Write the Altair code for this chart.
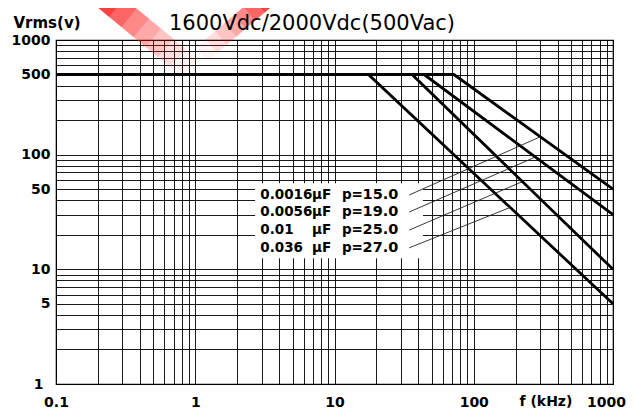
import altair as alt
import pandas as pd

# ---------------- data ----------------
caps = ["0.0016µF", "0.0056µF", "0.01µF", "0.036µF"]
cap_values = ["0.0016", "0.0056", "0.01", "0.036"]
p_names = ["p=", "p=", "p=", "p="]
p_values = ["15.0", "19.0", "25.0", "27.0"]
v_flat = [500, 500, 500, 500]          # Vrms on the flat part
break_khz = [72, 44, 36, 17.5]         # corner frequency (kHz)
v_at_1000 = [50, 30, 10, 5]            # Vrms at 1000 kHz
f_start = 0.1
f_end = 1000

x_tick_labels = ["0.1", "1", "10", "100", "1000"]
y_tick_labels = ["1", "5", "10", "50", "100", "500", "1000"]

title_text = "1600Vdc/2000Vdc(500Vac)"
y_title = "Vrms(v)"
x_title = "f (kHz)"

# leader end points on the curves
leader_end_f = [300, 275, 222, 182]
leader_end_v = [143, 95, 58, 34.6]

# ---------------- tables ----------------
rows = []
for c, vf, fb, ve in zip(caps, v_flat, break_khz, v_at_1000):
    rows += [{"cap": c, "f": f_start, "v": vf},
             {"cap": c, "f": fb, "v": vf},
             {"cap": c, "f": f_end, "v": ve}]
curves = pd.DataFrame(rows)

# annotation layout (data coordinates)
row_v = [44.5, 31.6, 22.0, 15.4]
COL_VAL, COL_UNIT, COL_P, COL_PV, LEAD_START = 2.93, 6.89, 11.3, 15.9, 34.4
legend = pd.DataFrame({
    "val": cap_values, "pn": p_names, "pv": p_values, "v": row_v,
    "ef": leader_end_f, "ev": leader_end_v,
})
legend["xa"] = COL_VAL
legend["xb"] = COL_UNIT
legend["xc"] = COL_P
legend["xd"] = COL_PV
legend["xs"] = LEAD_START
legend["unit"] = "µF"

box_df = pd.DataFrame({"x1": [2.69], "x2": [43.2], "y1": [56.2], "y2": [12.5]})
xt_df = pd.DataFrame({"f": [330.0], "t": [x_title]})

x_grid = [float(f"{m}e{e}") for e in range(-1, 3) for m in range(1, 10)] + [1000.0]
y_grid = [float(f"{m}e{e}") for e in range(0, 3) for m in range(1, 10)] + [1000.0]


def label_expr(labels):
    expr = "''"
    for lab in reversed(labels):
        expr = f"datum.value == {lab} ? '{lab}' : " + expr
    return expr


FONT = "DejaVu Sans"
xscale = alt.Scale(type="log", domain=[0.1, 1000], nice=False)
yscale = alt.Scale(type="log", domain=[1, 1000], nice=False)

xaxis = alt.Axis(values=x_grid, labelExpr=label_expr(x_tick_labels), grid=True,
                 gridColor="#000", gridWidth=1, gridOpacity=0.9, ticks=False, tickSize=0,
                 domain=False, labelFont=FONT, labelFontWeight="bold", labelFontSize=14,
                 labelColor="#000", labelBaseline="middle", labelPadding=18,
                 labelOffset={"condition": {"test": "datum.value == 1000", "value": -7},
                              "value": 0},
                 labelFlush=False, labelOverlap=False, title=None)
yaxis = alt.Axis(values=y_grid, labelExpr=label_expr(y_tick_labels), grid=True,
                 gridColor="#000", gridWidth=1, gridOpacity=0.9, ticks=False, tickSize=0,
                 domain=False, labelFont=FONT, labelFontWeight="bold", labelFontSize=14,
                 labelColor="#000", labelBaseline="middle", labelAlign="right",
                 labelPadding={"condition": {"test": "datum.value == 1", "value": 13},
                               "value": 6},
                 labelFlush=False, labelOverlap=False, title=None)

one = pd.DataFrame({"k": [0]})

# watermark (faded red stroke at the top), drawn as fading segments
wm_layers = []
arms = [((49, -42), (134, 28), 24), ((212, -42), (146, 14), 18)]
steps = 7
for (xa, ya), (xb, yb), w in arms:
    for i in range(steps):
        t0, t1 = i / steps, (i + 1) / steps
        wm_layers.append(
            alt.Chart(one).mark_rule(color="#ff1f1f", strokeWidth=w, strokeCap="butt",
                                     opacity=0.85 * (1 - t0) ** 1.4).encode(
                x=alt.value(xa + (xb - xa) * t0), y=alt.value(ya + (yb - ya) * t0),
                x2=alt.value(xa + (xb - xa) * t1), y2=alt.value(ya + (yb - ya) * t1)))

lines = alt.Chart(curves).mark_line(color="#000", strokeWidth=2.8).encode(
    x=alt.X("f:Q", scale=xscale, axis=xaxis),
    y=alt.Y("v:Q", scale=yscale, axis=yaxis),
    detail="cap:N",
)

box = alt.Chart(box_df).mark_rect(fill="#fff").encode(
    x=alt.X("x1:Q", title=None), x2="x2:Q", y=alt.Y("y1:Q", title=None), y2="y2:Q")

txt_style = dict(font=FONT, fontWeight="bold", fontSize=13.5, color="#000",
                 align="left", baseline="middle")
leg_val = alt.Chart(legend).mark_text(**txt_style).encode(
    x=alt.X("xa:Q", title=None), y=alt.Y("v:Q", title=None), text="val:N")
leg_unit = alt.Chart(legend).mark_text(**txt_style).encode(
    x=alt.X("xb:Q", title=None), y=alt.Y("v:Q", title=None), text="unit:N")
leg_pn = alt.Chart(legend).mark_text(**txt_style).encode(
    x=alt.X("xc:Q", title=None), y=alt.Y("v:Q", title=None), text="pn:N")
leg_pv = alt.Chart(legend).mark_text(**{**txt_style, "fontSize": 14.5}).encode(
    x=alt.X("xd:Q", title=None), y=alt.Y("v:Q", title=None), text="pv:N")
leaders = alt.Chart(legend).mark_rule(color="#222", strokeWidth=0.9).encode(
    x=alt.X("xs:Q", title=None), y=alt.Y("v:Q", title=None),
    x2="ef:Q", y2="ev:Q")

title = alt.Chart(one).mark_text(font=FONT, fontSize=21, color="#000",
                                 baseline="middle", align="center",
                                 text=title_text).encode(
    x=alt.value(256), y=alt.value(-16))
ytitle = alt.Chart(one).mark_text(font=FONT, fontSize=15, fontWeight="bold", color="#000",
                                  baseline="middle", align="center",
                                  text=y_title).encode(
    x=alt.value(-9), y=alt.value(-17))
xtitle = alt.Chart(xt_df).mark_text(font=FONT, fontSize=14, fontWeight="bold", color="#000",
                                    baseline="middle", align="center").encode(
    x=alt.X("f:Q", title=None), y=alt.value(362), text="t:N")

chart = alt.layer(*wm_layers, lines, box, leaders, leg_val, leg_unit, leg_pn, leg_pv,
                  title, ytitle, xtitle).properties(
    width=557, height=344, autosize="none",
    padding={"left": 48, "top": 32, "right": 13, "bottom": 25},
    background="#ffffff",
).configure_view(stroke="#000", strokeWidth=1.2)

chart.save("out.html", embed_options={"renderer": "svg", "actions": False})
